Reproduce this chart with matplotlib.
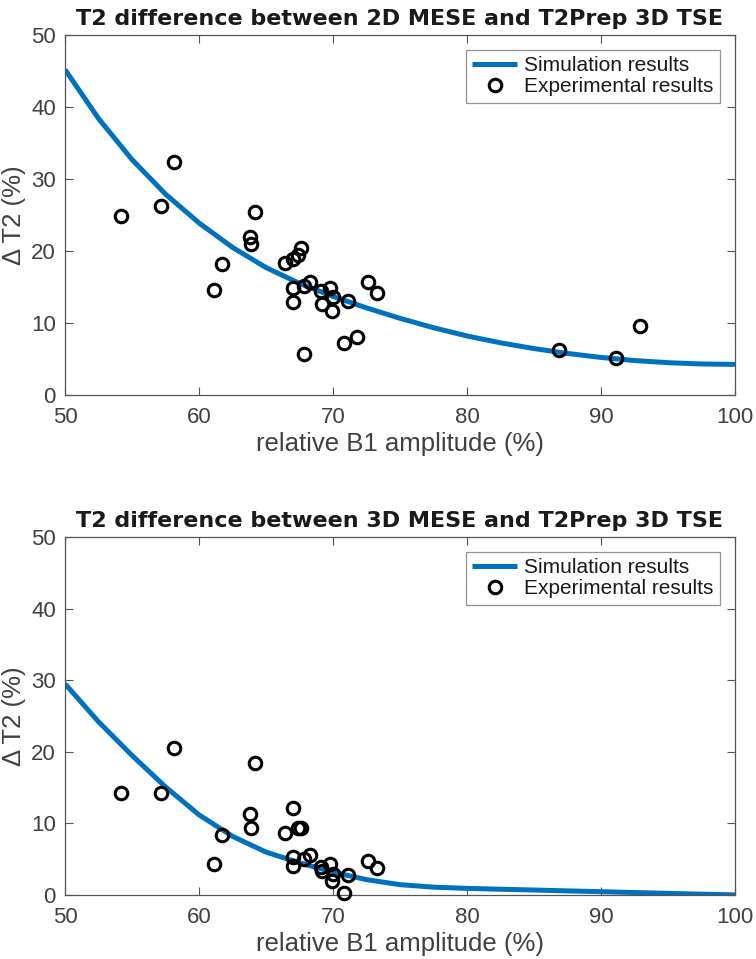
import matplotlib
matplotlib.use("Agg")
import matplotlib.pyplot as plt

# --- datos: curva simulada ---
b1_sim = [50, 52.5, 55, 57.5, 60, 62.5, 65, 67.5, 70, 72.5, 75, 77.5, 80,
          82.5, 85, 87.5, 90, 92.5, 95, 97.5, 100]
dt2_sim_2d = [45.2, 38.4, 32.7, 27.9, 23.9, 20.5, 17.7, 15.5, 13.7, 12.1, 10.65,
              9.35, 8.2, 7.25, 6.45, 5.77, 5.22, 4.79, 4.49, 4.31, 4.25]
dt2_sim_3d = [29.5, 24.2, 19.5, 15.1, 11.2, 8.2, 6.0, 4.5, 3.2, 2.15, 1.45,
              1.1, 0.93, 0.81, 0.7, 0.58, 0.47, 0.35, 0.23, 0.12, 0.02]

# --- datos experimentales ---
b1_exp_2d = [54.2, 57.2, 58.1, 61.1, 61.7, 63.8, 63.9, 64.2, 66.4, 67.0, 67.0,
             67.0, 67.4, 67.6, 67.8, 67.8, 68.3, 69.1, 69.2, 69.8, 70.0, 69.9,
             70.8, 71.1, 71.8, 72.6, 73.3, 86.9, 91.1, 92.9]
dt2_exp_2d = [24.8, 26.2, 32.4, 14.6, 18.2, 21.9, 21.0, 25.4, 18.3, 18.9, 14.9,
              12.9, 19.5, 20.4, 15.2, 5.7, 15.7, 14.4, 12.7, 14.9, 13.6, 11.7,
              7.2, 13.1, 8.0, 15.7, 14.2, 6.3, 5.1, 9.6]

b1_exp_3d = [54.2, 57.2, 58.1, 61.1, 61.7, 63.8, 63.9, 64.2, 66.4, 67.0, 67.0,
             67.0, 67.4, 67.6, 67.8, 68.3, 69.1, 69.2, 69.8, 70.0, 69.9, 70.8,
             71.1, 72.6, 73.3]
dt2_exp_3d = [14.2, 14.2, 20.6, 4.4, 8.4, 11.3, 9.4, 18.4, 8.6, 12.1, 5.3,
              4.0, 9.4, 9.4, 5.0, 5.6, 3.9, 3.3, 4.4, 3.0, 1.9, 0.25,
              2.8, 4.7, 3.8]

titulos = ["T2 difference between 2D MESE and T2Prep 3D TSE",
           "T2 difference between 3D MESE and T2Prep 3D TSE"]

AZUL = "#0072BD"
GRIS_EJE = "#555555"
GRIS_TXT = "#404040"
FUENTE = "Liberation Sans"

fig = plt.figure(figsize=(7.56, 9.59), dpi=100)
ax1 = fig.add_axes([0.086, 0.5881, 0.8862, 0.3754])
ax2 = fig.add_axes([0.086, 0.0667, 0.8862, 0.3733])

paneles = [(ax1, dt2_sim_2d, b1_exp_2d, dt2_exp_2d, titulos[0]),
           (ax2, dt2_sim_3d, b1_exp_3d, dt2_exp_3d, titulos[1])]

for ax, sim, bx, by, titulo in paneles:
    ax.plot(b1_sim, sim, color=AZUL, lw=3.6, label="Simulation results",
            solid_capstyle="butt", solid_joinstyle="round", zorder=2)
    ax.plot(bx, by, "o", ms=9, mfc="none", mec="black", mew=2.2,
            label="Experimental results", zorder=3, clip_on=False)
    ax.set_xlim(50, 100)
    ax.set_ylim(0, 50)
    ax.set_xticks([50, 60, 70, 80, 90, 100])
    ax.set_yticks([0, 10, 20, 30, 40, 50])
    ax.tick_params(direction="in", length=5.5, width=0.8, colors=GRIS_EJE,
                   labelcolor=GRIS_TXT, labelsize=16, top=True, right=True)
    ax.tick_params(axis="x", pad=8.5)
    ax.tick_params(axis="y", pad=6.5)
    for lab in ax.get_xticklabels() + ax.get_yticklabels():
        lab.set_fontfamily(FUENTE)
    for s in ax.spines.values():
        s.set_color(GRIS_EJE)
        s.set_linewidth(0.9)
    ax.set_xlabel("relative B1 amplitude (%)", fontsize=18.5, color=GRIS_TXT,
                  family=FUENTE, labelpad=3)
    ax.set_ylabel("Δ T2 (%)", fontsize=18.5, color=GRIS_TXT,
                  family=[FUENTE, "DejaVu Sans"], labelpad=4)
    ax.set_title(titulo, fontsize=16.0, fontweight="bold", color="#1a1a1a",
                 family="DejaVu Sans", pad=7)
    leg = ax.legend(loc="upper right",
                    prop={"family": FUENTE, "size": 15},
                    frameon=True, fancybox=False, borderaxespad=0.72,
                    handlelength=2.15, handletextpad=0.35, borderpad=0.3,
                    labelspacing=0.1)
    leg.get_frame().set_edgecolor("#777777")
    leg.get_frame().set_linewidth(0.9)
    for t in leg.get_texts():
        t.set_color("#1a1a1a")

fig.savefig("out.png", dpi=100)
